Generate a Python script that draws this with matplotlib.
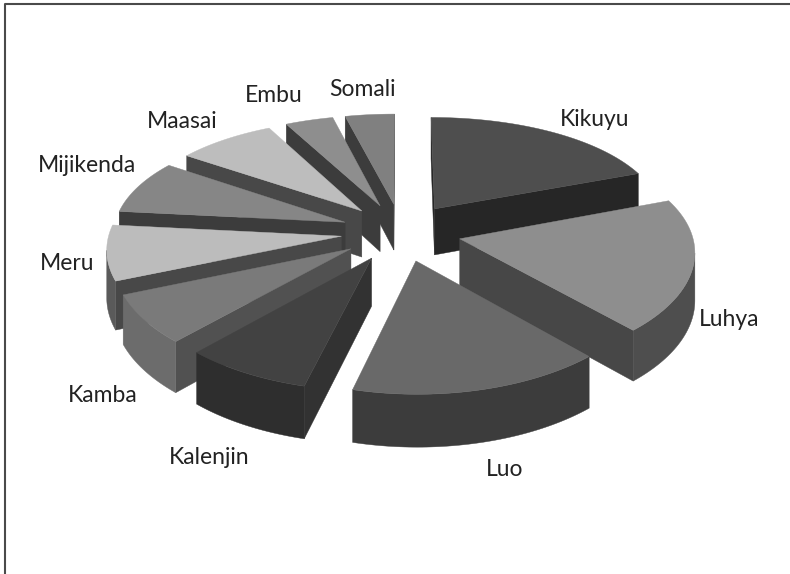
import matplotlib
matplotlib.use('Agg')
import matplotlib.pyplot as plt
import numpy as np

# Population share by ethnic group (percent), clockwise from 12 o'clock
groups = ['Kikuyu', 'Luhya', 'Luo', 'Kalenjin', 'Kamba', 'Meru',
          'Mijikenda', 'Maasai', 'Embu', 'Somali']
shares = [19.3, 18.9, 15.8, 7.9, 6.9, 7.8, 7.9, 7.8, 3.8, 3.9]

# Grey levels per slice: top face, radial wall, outer wall
top_colors = ['#4e4e4e', '#8e8e8e', '#696969', '#424242', '#7a7a7a',
              '#bcbcbc', '#868686', '#bdbdbd', '#8e8e8e', '#808080']
side_colors = ['#262626', '#474747', '#3a3a3a', '#323232', '#515151',
               '#484848', '#3c3c3c', '#484848', '#3c3c3c', '#3c3c3c']
rim_colors = ['#262626', '#4e4e4e', '#3c3c3c', '#2e2e2e', '#6c6c6c',
              '#5a5a5a', '#3c3c3c', '#484848', '#3c3c3c', '#3c3c3c']

label_xy = [(595, 119), (729, 320), (505, 469), (209, 457), (103, 395),
            (67, 264), (87, 166), (182, 121), (274, 96), (362, 90)]

# Pie geometry in pixels
CX, CY = 401, 232
RADIUS = 232
EXPLODE = 60
SQUASH = 0.482
PERSP_X = 0.10
PERSP_Y = 0.128
DEPTH = 47


def project(x, y):
    """Ground-plane point to screen, nearer points drawn larger."""
    sx = 1.0 - PERSP_X * y / RADIUS
    sy = 1.0 - PERSP_Y * y / RADIUS
    return CX + x * sx, CY - SQUASH * y * sy, sx


def wall(ax, pts, color, z):
    """Vertical wall hanging under a run of top-face points."""
    top = [(p[0], p[1]) for p in pts]
    bottom = [(p[0], p[1] + DEPTH * p[2]) for p in reversed(pts)]
    ax.fill(*zip(*(top + bottom)), color=color, lw=0.3, zorder=z)


def draw_slice(ax, a0, a1, top, side, rim, z):
    mid = (a0 + a1) / 2
    ox, oy = EXPLODE * np.sin(mid), EXPLODE * np.cos(mid)
    angles = np.linspace(a0, a1, 60)
    arc = [project(ox + RADIUS * np.sin(a), oy + RADIUS * np.cos(a)) for a in angles]
    tip = project(ox, oy)

    # only edges running right to left on screen show their wall
    if arc[0][0] < tip[0]:
        wall(ax, [tip, arc[0]], side, z)
    if tip[0] < arc[-1][0]:
        wall(ax, [arc[-1], tip], side, z)
    run = [k for k in range(len(arc) - 1) if arc[k + 1][0] < arc[k][0]]
    if run:
        wall(ax, arc[run[0]:run[-1] + 2], rim, z)

    outline = [tip] + arc
    ax.fill([p[0] for p in outline], [p[1] for p in outline], color=top, lw=0.3, zorder=z)


fig = plt.figure(figsize=(7.9, 5.74), dpi=100)
ax = fig.add_axes([0, 0, 1, 1])
ax.set_xlim(0, 790)
ax.set_ylim(574, 0)
ax.axis('off')

# chart frame, only the top and left edges show
ax.plot([5, 5, 790], [574, 4, 4], color='#4a4a4a', lw=1.5)

edges = np.cumsum([0] + shares) / sum(shares) * 2 * np.pi
mids = (edges[:-1] + edges[1:]) / 2
# paint from the back of the pie to the front
order = np.argsort(-np.cos(mids))
for z, i in enumerate(order):
    draw_slice(ax, edges[i], edges[i + 1], top_colors[i], side_colors[i], rim_colors[i], z + 2)

for name, (x, y) in zip(groups, label_xy):
    ax.text(x, y, name, ha='center', va='center', fontsize=16.5, family='Lato', color='#222222')

fig.savefig('out.png', dpi=100)
